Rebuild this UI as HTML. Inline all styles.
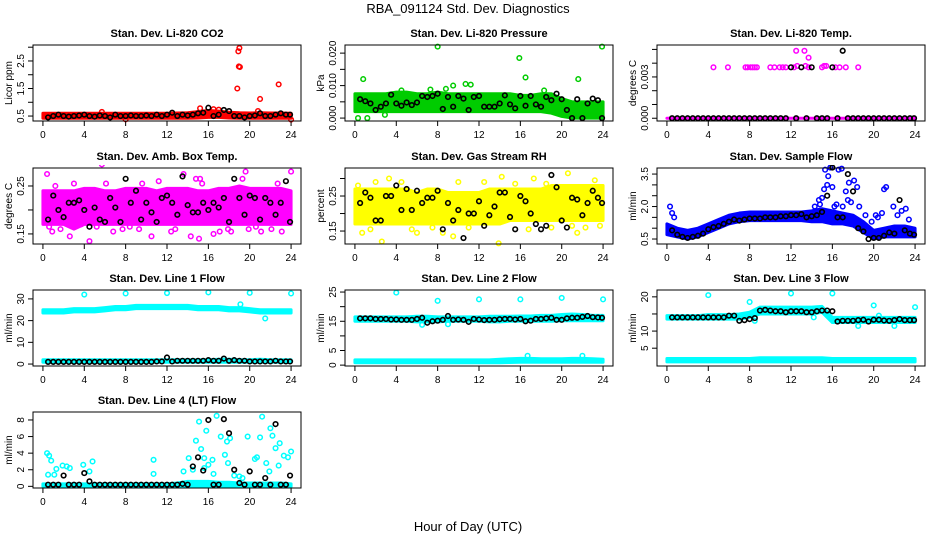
<!DOCTYPE html>
<html><head><meta charset="utf-8"><style>
body{margin:0;background:#fff;}
svg{display:block;font-family:"Liberation Sans",Arial,sans-serif;}
</style></head><body>
<svg id="chart" width="936" height="540" viewBox="0 0 936 540">
<rect x="0" y="0" width="936" height="540" fill="#fff"/>
<text x="468" y="13" text-anchor="middle" font-size="13">RBA_091124  Std. Dev. Diagnostics</text>
<text x="468" y="531" text-anchor="middle" font-size="13">Hour of Day (UTC)</text>
</svg>
<script>
const hours=[0,1,2,3,4,5,6,7,8,9,10,11,12,13,14,15,16,17,18,19,20,21,22,23,24];
const blackX=[0.5,1,1.5,2,2.5,3,3.5,4,4.5,5,5.5,6,6.5,7,7.5,8,8.5,9,9.5,10,10.5,11,11.5,12,12.5,13,13.5,14,14.5,15,15.5,16,16.5,17,17.5,18,18.5,19,19.5,20,20.5,21,21.5,22,22.5,23,23.5,23.9];
const xTicks=[0,4,8,12,16,20,24];

// Panel 1 CO2
const co2Lo=[0.42,0.42,0.42,0.42,0.42,0.42,0.42,0.42,0.42,0.42,0.42,0.42,0.42,0.42,0.42,0.43,0.45,0.45,0.43,0.42,0.42,0.42,0.42,0.42,0.42];
const co2Hi=[0.6,0.6,0.6,0.6,0.6,0.6,0.6,0.6,0.6,0.6,0.6,0.6,0.6,0.61,0.62,0.66,0.7,0.68,0.64,0.62,0.61,0.62,0.61,0.61,0.6];
const co2OutX=[18.9,19,18.95,19.05,18.8,21,22.8,15.2,16.5,17,20.8,24,8,5.7];
const co2OutY=[2.85,2.97,2.3,2.28,1.5,1.12,1.65,0.78,0.75,0.73,0.68,0.37,0.38,0.65];
const co2Black=[0.45,0.5,0.55,0.5,0.48,0.5,0.52,0.55,0.5,0.48,0.52,0.5,0.45,0.55,0.5,0.5,0.52,0.5,0.5,0.52,0.5,0.55,0.5,0.55,0.62,0.5,0.55,0.52,0.55,0.6,0.62,0.8,0.5,0.55,0.72,0.68,0.5,0.5,0.45,0.5,0.52,0.6,0.5,0.5,0.55,0.6,0.55,0.55];
// Panel 2 Pressure
const prLo=[0.002,0.002,0.002,0.002,0.002,0.002,0.002,0.002,0.002,0.002,0.002,0.002,0.002,0.002,0.002,0.002,0.002,0.002,0.002,0.0015,0.0005,0,0,0,0];
const prHi=[0.0075,0.0075,0.0075,0.0075,0.008,0.008,0.0075,0.0075,0.008,0.0075,0.0075,0.0075,0.0075,0.0075,0.0075,0.0075,0.007,0.007,0.0075,0.0075,0.006,0.005,0.005,0.005,0.005];
const prOutX=[0.8,8,15.9,16.5,21.6,23.9,10.7,11.2,9.5,0.3,1.2,4.5,7.3,8.8,18.3,2.9];
const prOutY=[0.012,0.022,0.0185,0.0125,0.012,0.022,0.0105,0.0103,0.01,0,0,0.0085,0.0088,0.009,0.0085,0.001];
const prBlack=[0.0058,0.0052,0.0045,0.0025,0.0035,0.0045,0.0072,0.0045,0.0038,0.0048,0.004,0.0048,0.0068,0.0065,0.0068,0.0075,0.0028,0.0065,0.0035,0.0068,0.006,0.0025,0.0065,0.0068,0.0035,0.0035,0.0035,0.0045,0.007,0.0042,0.003,0.0068,0.0038,0.0068,0.0042,0.0035,0.0065,0.0055,0.0075,0.0058,0.0025,0,0.0058,0,0.0045,0.006,0.0055,0];
// Panel 3 Temp
const tpLo=[0,0,0,0,0,0,0,0,0,0,0,0,0,0,0,0,0,0,0,0,0,0,0,0,0];
const tpHi=[0,0,0,0,0,0,0,0,0,0,0,0,0,0,0,0,0,0,0,0,0,0,0,0,0];
const tpOutX=[4.5,5.9,7.6,7.8,8.1,8.3,8.5,8.7,10,10.4,10.9,11.2,11.5,12.3,12.6,13.4,13.7,15,15.2,15.4,16.3,16.7,17.3,18.5,12.5,13.3,13.7];
const tpOutY=[0.0037,0.0037,0.0037,0.0037,0.0037,0.0037,0.0037,0.0037,0.0037,0.0037,0.0037,0.0037,0.0037,0.0037,0.0038,0.0038,0.0037,0.0037,0.0038,0.0038,0.0037,0.0037,0.0037,0.0037,0.0049,0.0049,0.0044];
const tpBlack=[0,0,0,0,0,0,0,0,0,0,0,0,0,0,0,0,0,0,0,0,0,0,0,0.0037,0,0.0037,0,0.0037,0,0,0,0.0037,0,0.0049,0,0,0,0,0,0,0,0,0,0,0,0,0,0];
// Panel 4 Amb box temp
const amLo=[0.17,0.17,0.17,0.16,0.17,0.17,0.17,0.17,0.17,0.17,0.17,0.17,0.17,0.17,0.17,0.17,0.17,0.17,0.17,0.17,0.17,0.17,0.17,0.17,0.17];
const amHi=[0.24,0.24,0.24,0.24,0.245,0.245,0.24,0.24,0.245,0.245,0.245,0.24,0.245,0.245,0.245,0.24,0.24,0.245,0.245,0.25,0.245,0.245,0.245,0.245,0.24];
const amOutX=[0.4,0.9,1.7,2.6,3,4.5,5.7,6.8,8.4,9.6,11.2,12.8,13.6,14.3,15.1,15.2,16.5,17.1,18.2,19.6,19.9,21.1,22.1,23.1,24,1.2,3.7,5.2,7.7,10.5,14.8,17.9,20.6,22.7,0.6,6.1,9.3,12.4,15.4,19.3];
const amOutY=[0.275,0.155,0.16,0.145,0.255,0.135,0.295,0.155,0.165,0.255,0.26,0.16,0.275,0.145,0.14,0.265,0.15,0.155,0.155,0.28,0.16,0.155,0.16,0.155,0.28,0.25,0.17,0.165,0.16,0.145,0.265,0.16,0.165,0.255,0.165,0.255,0.16,0.155,0.255,0.265];
const amBlack=[0.18,0.23,0.2,0.185,0.215,0.215,0.22,0.2,0.165,0.205,0.18,0.175,0.225,0.205,0.175,0.265,0.215,0.24,0.18,0.215,0.195,0.175,0.225,0.23,0.215,0.19,0.27,0.21,0.195,0.195,0.215,0.2,0.215,0.205,0.225,0.175,0.265,0.225,0.19,0.23,0.225,0.18,0.225,0.215,0.19,0.215,0.26,0.175];
// Panel 5 RH
const rhLo=[0.17,0.17,0.17,0.17,0.17,0.17,0.17,0.17,0.17,0.17,0.17,0.17,0.17,0.17,0.17,0.18,0.18,0.18,0.18,0.18,0.18,0.18,0.18,0.18,0.18];
const rhHi=[0.27,0.27,0.27,0.27,0.27,0.27,0.26,0.27,0.27,0.26,0.26,0.26,0.26,0.27,0.27,0.27,0.27,0.27,0.27,0.28,0.28,0.28,0.28,0.28,0.28];
const rhOutX=[0.7,1.5,2.6,3.3,4.5,7.5,8.5,9.5,10,12.5,13.9,14.2,16.8,18.5,20.6,21.5,22.3,23.2,0.3,2,5.5,6,11,15.5,17.3,19,21,23.7];
const rhOutY=[0.145,0.155,0.12,0.3,0.29,0.16,0.145,0.135,0.29,0.29,0.115,0.305,0.155,0.285,0.315,0.145,0.16,0.295,0.28,0.29,0.155,0.145,0.16,0.285,0.3,0.16,0.165,0.165];
const rhBlack=[0.23,0.26,0.245,0.18,0.18,0.25,0.25,0.28,0.21,0.27,0.21,0.265,0.23,0.245,0.245,0.265,0.155,0.23,0.18,0.21,0.13,0.2,0.2,0.235,0.165,0.195,0.22,0.26,0.26,0.19,0.155,0.25,0.235,0.2,0.17,0.155,0.165,0.31,0.275,0.18,0.16,0.245,0.24,0.195,0.23,0.265,0.245,0.23];
// Panel 6 Sample flow
const sfLo=[0.7,0.6,0.5,0.6,0.8,1.0,1.2,1.3,1.35,1.35,1.35,1.35,1.35,1.35,1.3,1.3,1.2,1.2,1.1,0.8,0.5,0.6,0.6,0.6,0.6];
const sfHi=[1.2,1.0,0.9,1.0,1.2,1.4,1.6,1.7,1.75,1.75,1.75,1.75,1.75,1.75,1.8,1.9,1.8,1.7,1.6,1.3,0.9,1.0,1.1,1.1,1.0];
const sfOutX=[0.3,0.5,0.7,14.3,14.7,15,15.3,15.6,15.8,16,16.2,16.6,16.9,17.3,17.6,17.8,18.1,18.4,14.8,15.2,16.4,17.0,18.6,19.8,20.2,20.8,21.2,21.9,22.3,22.7,23.1,23.4,21.0,20.4,19.2,15.5,17.5];
const sfOutY=[2.0,1.7,1.5,2.0,2.3,2.4,3.7,3.4,3.8,2.9,2.0,3.7,3.75,2.7,3.1,2.2,3.2,2.9,2.1,2.8,2.1,2.0,2.0,1.3,1.6,1.7,2.9,2.0,1.6,1.8,1.9,1.4,2.8,1.5,1.6,3.0,2.3];
const sfBlack=[0.9,0.7,0.6,0.55,0.6,0.65,0.75,0.95,1.05,1.1,1.2,1.3,1.4,1.35,1.4,1.45,1.45,1.45,1.5,1.5,1.5,1.55,1.55,1.6,1.6,1.65,1.5,1.55,1.6,1.75,2.5,3.8,1.5,1.5,3.5,2.7,1.0,0.85,0.5,0.55,0.55,0.65,0.8,0.75,2.3,0.9,0.75,0.7];
// Panel 7 Line 1
const l1aLo=[23.5,23.5,23.5,24,24,24,24.5,25,25,25.5,25.5,25.5,25.5,25.5,25.5,25,25,25,24.5,24.5,24,23.5,23.5,23.5,23.5];
const l1aHi=[25,25,25,25.5,25.5,25.5,26,26.5,26.5,27,27,27,27,27,27,26.5,26.5,26.5,26,26,25.5,25,25,25,25];
const l1bLo=[0.8,0.8,0.8,0.8,0.8,0.8,0.8,0.8,0.8,0.8,0.8,0.8,0.8,0.8,0.8,0.8,0.8,0.8,0.8,0.8,0.8,0.8,0.8,0.8,0.8];
const l1bHi=[2,2,2,2,2,2,2,2,2,2,2,2,2,2,2,2,2,2.2,2.2,2,2,2.2,2,2,2];
const l1OutX=[4,8,12,16,20,24,21.5,19.1];
const l1OutY=[32,32.5,32.7,33,32.8,32.5,21,27.5];
const l1Black=[1,1,1,1,1,1,1,1,1,1,1,1,1,1,1,1,1,1,1,1,1,1.2,1.2,3,1.2,1.5,1.5,1.5,1.5,1.5,1.5,1.8,1.5,1.5,2.5,1.5,1.8,1.5,1.5,1.2,1.2,1.2,1.2,1.2,1.5,1.2,1.2,1.2];
// Panel 8 Line 2
const l2aLo=[15,15,15,15,15,15,14.8,14.8,14.8,15,15,15,15,14.8,14.8,15,15,15,15,15,15.2,15.2,15.2,15.2,15.2];
const l2aHi=[16.5,16.5,16.5,16.5,16.5,16.5,16.7,16.7,16.5,16.5,16.5,16.5,16.5,16.7,16.7,16.7,16.8,16.8,17,17,17.3,17.5,17.3,17,17];
const l2bLo=[0.8,0.8,0.8,0.8,0.8,0.8,0.8,0.8,0.8,0.8,0.8,0.8,0.8,0.8,0.8,0.9,1,1,1,1,1,1,1,1,1];
const l2bHi=[1.8,1.8,1.8,1.8,1.8,1.8,1.8,1.8,1.8,1.8,1.8,1.8,1.8,1.8,2,2.2,2.3,2.3,2.2,2.2,2.2,2.3,2.3,2.2,2];
const l2OutX=[4,8,12,16,20,24,6.5,9,16.7,22];
const l2OutY=[24.8,22,22.5,22.5,23,22.5,13.8,14,3.2,3.2];
const l2Black=[16,16,16,15.8,15.8,15.8,15.6,15.6,15.5,15.5,15.5,15.8,16.2,14.5,15,15.2,15.5,16.8,15.5,15.6,15.5,14.8,15.8,15.6,15.4,15.5,15.5,15.7,15.8,15.8,15.6,15.8,15,15.2,15.8,15.8,16,16.2,15.5,15.5,16,16.2,16.2,16.5,16.8,16.4,16.3,16.2];
// Panel 9 Line 3
const l3aLo=[13.5,13.5,13.5,13.5,13.5,13.5,13.5,13.5,14,15,15,15,15,15,15,15.5,12.5,12.5,12.5,12.5,12.5,12.5,12.5,12.5,12.5];
const l3aHi=[14.5,14.5,14.5,14.5,14.8,14.8,14.8,15,15.5,17,17,17,17,17,17,17.2,14,14,14,14,14,14,14,14,14];
const l3bLo=[1,1,1,1,1,1,1,1,1,1,1,1,1,1,1,1,1,1,1,1,1,1,1,1,1];
const l3bHi=[2,2,2,2,2,2,2,2,2,2.2,2.2,2.2,2.2,2.2,2.2,2.2,2,2,2,2,2,2,2,2,2];
const l3OutX=[4,8,12,16,20,24,18.5,22,8.5,14.2,20.5];
const l3OutY=[20.5,18.5,21,21,17.5,17,11.5,11.5,13,14,14.5];
const l3Black=[14,14,14,14,14,14,14,14,14,14,14,14.5,14.5,13,13.2,13.5,13.8,16,16.2,16,15.8,15.8,15.5,15.8,15.8,15.8,15.5,15.5,15.8,16,16,15.8,12.8,13,13,13,13.2,13.3,12.8,13.3,13.3,13.1,13,13.2,13.5,13.2,13.2,13.2];
// Panel 10 Line 4
const l4Lo=[0,0,0,0,0,0,0,0,0,0,0,0,0,0,0,0,0,0,0,0,0,0,0,0,0];
const l4Hi=[0.3,0.3,0.3,0.3,0.3,0.3,0.3,0.3,0.3,0.3,0.3,0.3,0.3,0.4,0.6,0.6,0.6,0.5,0.5,0.4,0.4,0.4,0.4,0.4,0.3];
const l4OutX=[0.4,0.6,0.8,0.5,1.1,1.3,2.3,2.6,1.9,4.8,4.5,3.9,10.7,10.7,13.6,14.1,14.8,15.1,15.3,15.6,15.8,16.0,16.4,16.8,17.2,17.6,17.8,18.1,18.5,19.0,19.8,20.5,21.0,21.2,21.6,22.0,22.2,22.5,22.9,23.3,23.7,24,14.5,15.6,16.5,17.9,19.3,20.7,21.9,22.8];
const l4OutY=[4,3.7,3.1,1.4,1.4,2.1,2.4,2.2,2.5,3.0,1.8,2.6,3.2,1.5,1.8,3.4,5.5,7.8,4.5,3.4,6.7,2.6,3.2,8.5,6.0,3.8,5.4,5.8,1.3,1.2,6.0,3.3,5.9,8.4,2.8,7.0,6.1,4.6,5.2,3.7,3.5,4.2,2.0,2.2,1.5,2.8,1.0,3.5,1.8,2.5];
const l4Black=[0.2,0.2,0.2,1.3,0.2,0.2,0.2,1.6,0.6,0.2,0.2,0.2,0.2,0.2,0.2,0.2,0.2,0.2,0.2,0.2,0.2,0.2,0.2,0.2,0.2,0.2,0.3,0.2,2.4,3.5,1.9,8,0.2,0.2,8.1,6.4,2,0.4,0.2,1.8,0.2,0.2,1,0.2,7.5,0.2,0.2,1.3];

const NS="http://www.w3.org/2000/svg";
const svg=document.getElementById('chart');
function mk(tag,attrs,parent){const e=document.createElementNS(NS,tag);for(const k in attrs)e.setAttribute(k,attrs[k]);(parent||svg).appendChild(e);return e;}

const panels=[
 {name:'co2',title:'Stan. Dev. Li-820 CO2',ylab:'Licor ppm',col:0,row:0,ymin:0.32,ymax:3.08,ticks:[0.5,1,1.5,2,2.5,3],labels:['0.5','','1.5','','2.5',''],color:'#ff0000',bands:[[co2Lo,co2Hi]],ox:co2OutX,oy:co2OutY,black:co2Black},
 {name:'pressure',title:'Stan. Dev. Li-820 Pressure',ylab:'kPa',col:1,row:0,ymin:-0.0009,ymax:0.0225,ticks:[0,0.005,0.01,0.015,0.02],labels:['0.000','','0.010','','0.020'],color:'#00cc00',bands:[[prLo,prHi]],ox:prOutX,oy:prOutY,black:prBlack},
 {name:'temp',title:'Stan. Dev. Li-820 Temp.',ylab:'degrees C',col:2,row:0,ymin:-0.0002,ymax:0.00532,ticks:[0,0.001,0.002,0.003,0.004,0.005],labels:['0.000','','','0.003','',''],color:'#ff00ff',bands:[[tpLo,tpHi]],ox:tpOutX,oy:tpOutY,black:tpBlack},
 {name:'amb-temp',title:'Stan. Dev. Amb. Box Temp.',ylab:'degrees C',col:0,row:1,ymin:0.129,ymax:0.2875,ticks:[0.15,0.2,0.25],labels:['0.15','','0.25'],color:'#ff00ff',bands:[[amLo,amHi]],ox:amOutX,oy:amOutY,black:amBlack},
 {name:'rh',title:'Stan. Dev. Gas Stream RH',ylab:'percent',col:1,row:1,ymin:0.113,ymax:0.33,ticks:[0.15,0.2,0.25,0.3],labels:['0.15','','0.25',''],color:'#ffff00',bands:[[rhLo,rhHi]],ox:rhOutX,oy:rhOutY,black:rhBlack},
 {name:'sample-flow',title:'Stan. Dev. Sample Flow',ylab:'ml/min',col:2,row:1,ymin:0.27,ymax:3.78,ticks:[0.5,1,1.5,2,2.5,3,3.5],labels:['0.5','','','2.0','','','3.5'],color:'#0000ff',bands:[[sfLo,sfHi]],ox:sfOutX,oy:sfOutY,black:sfBlack},
 {name:'line1',title:'Stan. Dev. Line 1 Flow',ylab:'ml/min',col:0,row:2,ymin:-0.9,ymax:34.1,ticks:[0,10,20,30],labels:['0','10','20','30'],color:'#00ffff',bands:[[l1aLo,l1aHi],[l1bLo,l1bHi]],ox:l1OutX,oy:l1OutY,black:l1Black},
 {name:'line2',title:'Stan. Dev. Line 2 Flow',ylab:'ml/min',col:1,row:2,ymin:-0.3,ymax:25.7,ticks:[0,5,10,15,20,25],labels:['0','5','','15','','25'],color:'#00ffff',bands:[[l2aLo,l2aHi],[l2bLo,l2bHi]],ox:l2OutX,oy:l2OutY,black:l2Black},
 {name:'line3',title:'Stan. Dev. Line 3 Flow',ylab:'ml/min',col:2,row:2,ymin:-0.2,ymax:22,ticks:[5,10,15,20],labels:['5','10','','20'],color:'#00ffff',bands:[[l3aLo,l3aHi],[l3bLo,l3bHi]],ox:l3OutX,oy:l3OutY,black:l3Black},
 {name:'line4',title:'Stan. Dev. Line 4 (LT) Flow',ylab:'ml/min',col:0,row:3,ymin:-0.2,ymax:8.96,ticks:[0,2,4,6,8],labels:['0','2','4','6','8'],color:'#00ffff',bands:[[l4Lo,l4Hi]],ox:l4OutX,oy:l4OutY,black:l4Black}
];
const colX=[33,345,657], rowY=[45,168,290,412], W=268, H=76;

panels.forEach(p=>{
 const L=colX[p.col], T=rowY[p.row];
 const g=mk('g',{});
 
 
 const sx=v=>L+(v+0.96)/25.92*W;
 const sy=v=>T+H-(v-p.ymin)/(p.ymax-p.ymin)*H;
 const cp=mk('clipPath',{id:'cp-'+p.name},g);
 mk('rect',{x:L,y:T-3,width:W,height:H+6},cp);
 const t=mk('text',{x:L+W/2,y:T-8,'text-anchor':'middle','font-size':'11','font-weight':'bold'},g);
 t.textContent=p.title;
 
 
 const yl=mk('text',{x:0,y:0,'text-anchor':'middle','font-size':'10',transform:`translate(${L-21},${T+H/2}) rotate(-90)`},g);
 yl.textContent=p.ylab;
 
 
 const pg=mk('g',{'clip-path':`url(#cp-${p.name})`},g);
 p.bands.forEach(b=>{
  let pts=hours.map((h,i)=>sx(h)+','+sy(b[1][i]));
  pts=pts.concat(hours.slice().reverse().map((h,j)=>sx(h)+','+sy(b[0][hours.length-1-j])));
  const band=mk('polygon',{points:pts.join(' '),fill:p.color,stroke:p.color,'stroke-width':'3','stroke-linejoin':'round'},pg);
  
  
 });
 p.ox.forEach((x,i)=>{
  const c=mk('circle',{cx:sx(x),cy:sy(p.oy[i]),r:2.3,fill:'none',stroke:p.color,'stroke-width':'1.5'},pg);
  
  
 });
 blackX.forEach((x,i)=>{
  const c=mk('circle',{cx:sx(x),cy:sy(p.black[i]),r:2.3,fill:'none',stroke:'#000','stroke-width':'1.6'},pg);
  
  
 });
 const box=mk('rect',{x:L,y:T,width:W,height:H,fill:'none',stroke:'#000','stroke-width':'1'},g);
 
 
 xTicks.forEach(v=>{
  mk('line',{x1:sx(v),x2:sx(v),y1:T+H,y2:T+H+5,stroke:'#000'},g);
  const tl=mk('text',{x:sx(v),y:T+H+17,'text-anchor':'middle','font-size':'10'},g);
  tl.textContent=v;
  
  
 });
 p.ticks.forEach((v,i)=>{
  mk('line',{x1:L-5,x2:L,y1:sy(v),y2:sy(v),stroke:'#000'},g);
  if(p.labels[i]){
   const tl=mk('text',{x:0,y:0,'text-anchor':'middle','font-size':'10',transform:`translate(${L-9},${sy(v)}) rotate(-90)`},g);
   tl.textContent=p.labels[i];
   
   
  }
 });
});
</script>
</body></html>
